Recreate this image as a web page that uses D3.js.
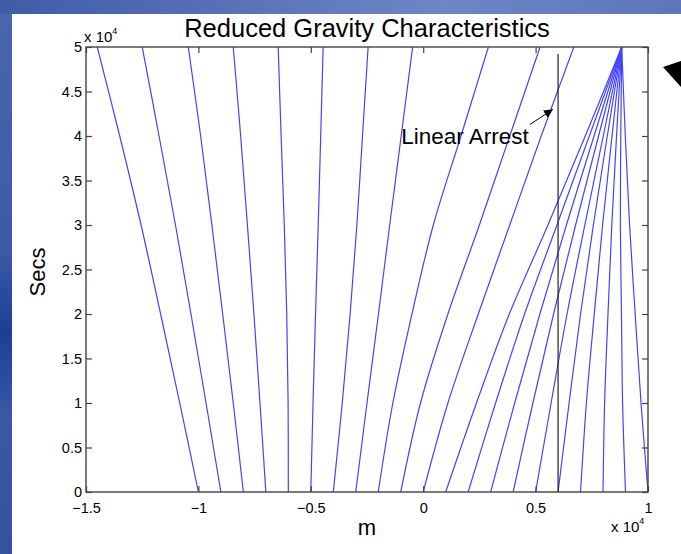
<!DOCTYPE html>
<html>
<head>
<meta charset="utf-8">
<script src="https://cdn.jsdelivr.net/npm/d3@7"></script>
<style>
  body { margin: 0; background: #fff; }
  text { font-family: "Liberation Sans", Arial, Helvetica, sans-serif; fill: #000; }
</style>
</head>
<body>
<svg id="chart"></svg>
<script>
// times (x 10^4 s) at which each characteristic is sampled
var tSteps = [0, 1, 2, 3, 4, 5];

// characteristics leaning left / almost vertical (x in 10^4 m at each tStep)
var leftChars = [
    [-1.0, -1.083, -1.168, -1.255, -1.35, -1.45],
    [-0.9, -0.966, -1.033, -1.102, -1.175, -1.25],
    [-0.8, -0.845, -0.892, -0.94, -0.99, -1.045],
    [-0.7, -0.726, -0.753, -0.782, -0.812, -0.845],
    [-0.6, -0.601, -0.607, -0.618, -0.632, -0.645],
    [-0.5, -0.49, -0.479, -0.467, -0.456, -0.445],
    [-0.4, -0.36, -0.325, -0.295, -0.27, -0.245],
    [-0.3, -0.25, -0.199, -0.149, -0.098, -0.047]
];

// characteristics that leave through the top
var midChars = [
    [-0.2, -0.135, -0.05, 0.045, 0.168, 0.29],
    [-0.1, -0.012, 0.11, 0.25, 0.385, 0.52],
    [0.0, 0.11, 0.245, 0.385, 0.525, 0.67]
];

// characteristics converging on the top point
var fanChars = [
    [0.1, 0.237, 0.383, 0.555, 0.721, 0.883],
    [0.2, 0.322, 0.451, 0.595, 0.739, 0.883],
    [0.3, 0.407, 0.519, 0.637, 0.760, 0.883],
    [0.4, 0.488, 0.580, 0.678, 0.780, 0.883],
    [0.5, 0.569, 0.640, 0.719, 0.801, 0.883],
    [0.6, 0.649, 0.700, 0.757, 0.819, 0.883],
    [0.7, 0.726, 0.761, 0.798, 0.840, 0.883],
    [0.8, 0.807, 0.822, 0.839, 0.860, 0.883],
    [0.9, 0.887, 0.882, 0.877, 0.879, 0.883],
    [1.0, 0.969, 0.943, 0.918, 0.899, 0.883]
];

// linear arrest marker: x position and top time
var arrestX = 0.6;
var arrestTop = 4.92;

// annotation: text anchor and arrow tip
var noteText = 'Linear Arrest';
var noteAt = [0.47, 3.91];
var arrowFrom = [0.475, 4.13];
var arrowTo = [0.577, 4.30];

var xTicks = [-1.5, -1, -0.5, 0, 0.5, 1];
var yTicks = [0, 0.5, 1, 1.5, 2, 2.5, 3, 3.5, 4, 4.5, 5];

(function () {
    var width = 681, height = 554;
    var left = 86, right = 648, top = 47, bottom = 492;

    var svg = d3.select('#chart')
        .attr('width', width)
        .attr('height', height);

    var defs = svg.append('defs');

    // slide background strips
    var gLeft = defs.append('linearGradient').attr('id', 'blueLeft')
        .attr('x1', 0).attr('y1', 0).attr('x2', 0).attr('y2', 1);
    gLeft.append('stop').attr('offset', '0%').attr('stop-color', '#4a66b0');
    gLeft.append('stop').attr('offset', '45%').attr('stop-color', '#3c5aa7');
    gLeft.append('stop').attr('offset', '60%').attr('stop-color', '#1f3d95');
    gLeft.append('stop').attr('offset', '75%').attr('stop-color', '#3a58a6');
    gLeft.append('stop').attr('offset', '100%').attr('stop-color', '#3552a2');

    var gTop = defs.append('linearGradient').attr('id', 'blueTop')
        .attr('x1', 0).attr('y1', 0).attr('x2', 1).attr('y2', 0);
    gTop.append('stop').attr('offset', '0%').attr('stop-color', '#3f5ca8');
    gTop.append('stop').attr('offset', '65%').attr('stop-color', '#6e86c6');
    gTop.append('stop').attr('offset', '100%').attr('stop-color', '#5c76bc');

    defs.append('clipPath').attr('id', 'plotClip')
        .append('rect')
            .attr('x', left).attr('y', top)
            .attr('width', right - left).attr('height', bottom - top);

    defs.append('marker')
        .attr('id', 'arrowHead')
        .attr('viewBox', '0 0 10 10')
        .attr('refX', 10).attr('refY', 5)
        .attr('markerWidth', 9).attr('markerHeight', 9)
        .attr('markerUnits', 'userSpaceOnUse')
        .attr('orient', 'auto')
        .append('path')
            .attr('d', 'M0,0 L10,5 L0,10 Z')
            .attr('fill', '#000');

    svg.append('rect').attr('width', width).attr('height', height).attr('fill', '#fff');
    svg.append('rect').attr('x', 0).attr('y', 0).attr('width', 12).attr('height', height).attr('fill', 'url(#blueLeft)');
    svg.append('rect').attr('x', 0).attr('y', 0).attr('width', width).attr('height', 14).attr('fill', 'url(#blueTop)');

    // black slide triangle at the right
    svg.append('path')
        .attr('d', 'M663,67 L681,61 L681,87 Z')
        .attr('fill', '#000');

    var x = d3.scaleLinear().domain([-1.5, 1]).range([left, right]);
    var y = d3.scaleLinear().domain([0, 5]).range([bottom, top]);

    var line = d3.line()
        .x(function (d) { return x(d[0]); })
        .y(function (d) { return y(d[1]); })
        .curve(d3.curveCatmullRom.alpha(0.5));

    var allChars = leftChars.concat(midChars, fanChars);

    svg.append('g')
        .attr('clip-path', 'url(#plotClip)')
        .selectAll('path')
        .data(allChars)
        .enter().append('path')
            .attr('d', function (row) {
                return line(row.map(function (v, i) { return [v, tSteps[i]]; }));
            })
            .attr('fill', 'none')
            .attr('stroke', '#4343ff')
            .attr('stroke-width', 1.2);

    // linear arrest line
    svg.append('line')
        .attr('x1', x(arrestX)).attr('x2', x(arrestX))
        .attr('y1', y(0)).attr('y2', y(arrestTop))
        .attr('stroke', '#222')
        .attr('stroke-width', 1.2);

    // axes, MATLAB style ticks pointing inward on all four sides
    var fmt = d3.format('');

    var axisStyle = function (g) {
        g.select('.domain').remove();
        g.selectAll('.tick line').attr('stroke', '#444').attr('stroke-width', 1.2);
        g.selectAll('.tick text').attr('font-size', 14.5).attr('fill', '#000')
            .attr('font-family', '"Liberation Sans", Arial, sans-serif');
    };

    svg.append('g')
        .attr('transform', 'translate(0,' + bottom + ')')
        .call(d3.axisBottom(x).tickValues(xTicks).tickFormat(fmt).tickSizeInner(-6).tickSizeOuter(0).tickPadding(11))
        .call(axisStyle);

    svg.append('g')
        .attr('transform', 'translate(0,' + top + ')')
        .call(d3.axisTop(x).tickValues(xTicks).tickFormat('').tickSizeInner(-6).tickSizeOuter(0))
        .call(axisStyle);

    svg.append('g')
        .attr('transform', 'translate(' + left + ',0)')
        .call(d3.axisLeft(y).tickValues(yTicks).tickFormat(fmt).tickSizeInner(-6).tickSizeOuter(0).tickPadding(4))
        .call(axisStyle);

    svg.append('g')
        .attr('transform', 'translate(' + right + ',0)')
        .call(d3.axisRight(y).tickValues(yTicks).tickFormat('').tickSizeInner(-6).tickSizeOuter(0))
        .call(axisStyle);

    // plot box
    svg.append('rect')
        .attr('x', left).attr('y', top)
        .attr('width', right - left).attr('height', bottom - top)
        .attr('fill', 'none')
        .attr('stroke', '#444')
        .attr('stroke-width', 1.4);

    // annotation
    svg.append('text')
        .attr('x', x(noteAt[0])).attr('y', y(noteAt[1]))
        .attr('text-anchor', 'end')
        .attr('font-size', 22.5)
        .text(noteText);

    svg.append('line')
        .attr('x1', x(arrowFrom[0])).attr('y1', y(arrowFrom[1]))
        .attr('x2', x(arrowTo[0])).attr('y2', y(arrowTo[1]))
        .attr('stroke', '#000')
        .attr('stroke-width', 1)
        .attr('marker-end', 'url(#arrowHead)');

    // title and labels
    svg.append('text')
        .attr('x', (left + right) / 2).attr('y', 37)
        .attr('text-anchor', 'middle')
        .attr('font-size', 25.5)
        .text('Reduced Gravity Characteristics');

    svg.append('text')
        .attr('x', (left + right) / 2).attr('y', 535)
        .attr('text-anchor', 'middle')
        .attr('font-size', 22)
        .text('m');

    svg.append('text')
        .attr('transform', 'translate(45,272) rotate(-90)')
        .attr('text-anchor', 'middle')
        .attr('font-size', 22)
        .text('Secs');

    // exponent labels
    var expY = svg.append('text').attr('x', 84).attr('y', 42).attr('font-size', 15);
    expY.append('tspan').text('x 10');
    expY.append('tspan').attr('font-size', 9).attr('dy', -8).text('4');

    var expX = svg.append('text').attr('x', 611).attr('y', 532).attr('font-size', 15);
    expX.append('tspan').text('x 10');
    expX.append('tspan').attr('font-size', 9).attr('dy', -8).text('4');
}());
</script>
</body>
</html>
